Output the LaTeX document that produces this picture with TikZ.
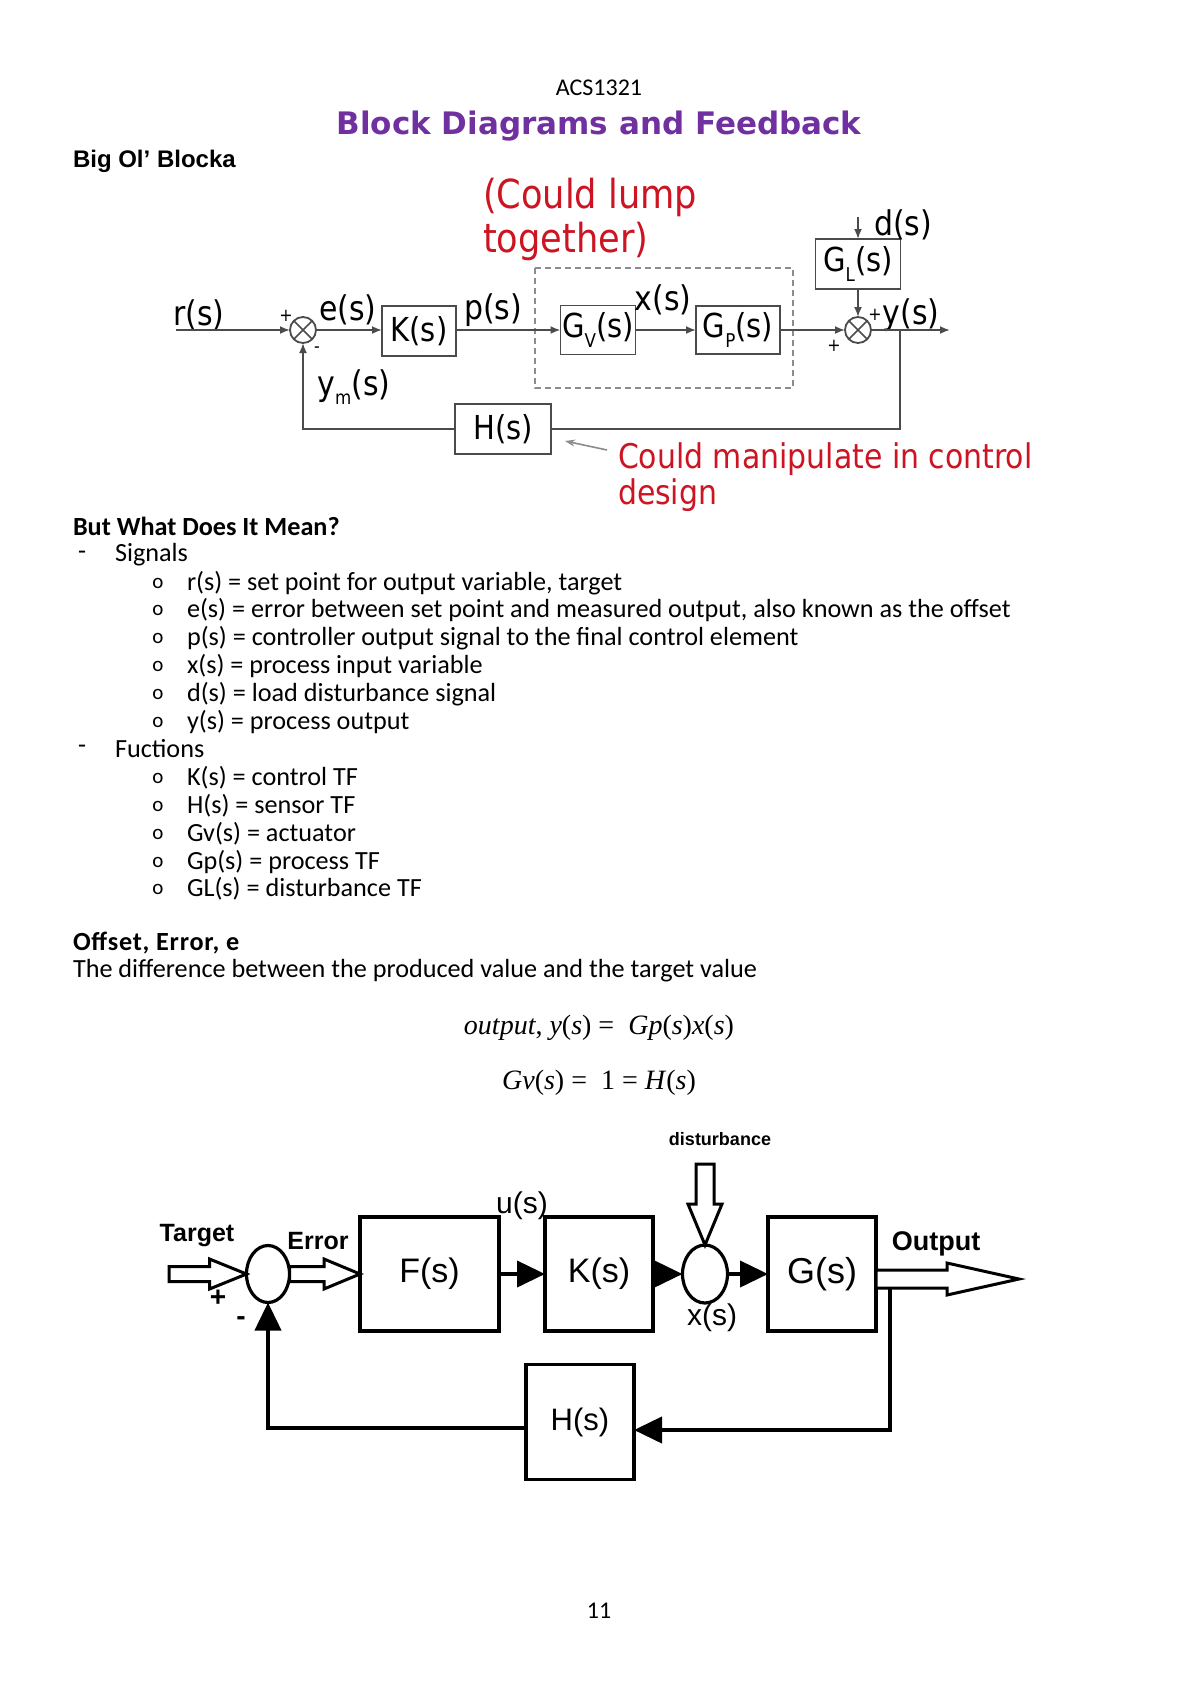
\documentclass[tikz,border=0pt]{standalone}
\usepackage{fontspec}
\setmainfont{Carlito}
\newfontfamily\djv{DejaVu Sans}[FakeStretch=0.88]
\newfontfamily\djt{DejaVu Sans}
\newfontfamily\lib{Liberation Sans}
\newfontfamily\lser{Liberation Serif}
\usetikzlibrary{arrows.meta,calc,shapes.geometric}
\definecolor{titlepurple}{RGB}{112,48,160}
\definecolor{annred}{RGB}{205,20,35}
\definecolor{lgray}{RGB}{75,75,75}
\definecolor{agray}{RGB}{140,140,140}
\newcommand{\sbx}[1]{\raisebox{-0.28em}{\fontsize{9.5}{9.5}\selectfont #1}}
\newcommand{\hharrow}[5]{%
 \draw[hollow] ($(#1)+(0,-#3)$) -- ($(#2)+(-#5,-#3)$) -- ($(#2)+(-#5,-#4)$) -- (#2) -- ($(#2)+(-#5,#4)$) -- ($(#2)+(-#5,#3)$) -- ($(#1)+(0,#3)$) -- cycle;}
\begin{document}
\begin{tikzpicture}[x=0.5pt,y=-0.5pt,
 every node/.style={inner sep=0pt, outer sep=0pt},
 body/.style={anchor=west, font=\fontsize{13.1}{14}\selectfont},
 bodyb/.style={anchor=west, font=\bfseries\fontsize{13.1}{14}\selectfont},
 bul/.style={font=\fontsize{10.5}{12}\selectfont},
 lab1/.style={font=\djv\fontsize{17}{17}\selectfont},
 blk1/.style={draw=lgray, line width=0.9pt, font=\djv\fontsize{16.5}{16.5}\selectfont},
 ln1/.style={draw=lgray, line width=0.9pt},
 tip1/.style={-{Latex[length=5pt,width=4pt]}},
 sumx/.style={circle, draw=lgray, line width=0.9pt, minimum size=13pt,
   path picture={\draw[lgray, line width=0.8pt] (path picture bounding box.north west) -- (path picture bounding box.south east) (path picture bounding box.north east) -- (path picture bounding box.south west);}},
 red1/.style={anchor=west, text=annred, font=\djv\fontsize{20}{20}\selectfont},
 red2/.style={anchor=west, text=annred, font=\djv\fontsize{17}{17}\selectfont},
 blk2/.style={draw, line width=1.6pt, font=\lib\fontsize{17}{17}\selectfont},
 ln2/.style={line width=2pt},
 tip2/.style={-{Triangle[length=14pt,width=13pt]}},
 hollow/.style={draw, line width=1.5pt, fill=white, line join=miter},
 ell/.style={ellipse, draw, line width=1.6pt},
 lab2/.style={font=\lib\bfseries\fontsize{12.5}{12.5}\selectfont},
 sig2/.style={font=\lib\fontsize{15}{15}\selectfont},
 eqn/.style={font=\lser\fontsize{14}{16}\selectfont}
]
\useasboundingbox (0,0) rectangle (1200,1698);
\fill[white] (0,0) rectangle (1200,1698);

% header
\node[font=\fontsize{12}{14}\selectfont] (hdr) at (599,88) {ACS1321};
\node[font=\djt\bfseries\fontsize{15.5}{17}\selectfont, text=titlepurple] (title) at (599,126) {Block Diagrams and Feedback};
\node[anchor=west, font=\lib\bfseries\fontsize{12}{14}\selectfont] (big) at (73,161) {Big Ol’ Blocka};

% ---------------- diagram 1 ----------------
\node[red1] (lump1) at (483,197) {(Could lump};
\node[red1] (lump2) at (483,241) {together)};
\draw[agray, line width=0.9pt, dash pattern=on 3pt off 2pt] (535,268) rectangle (793,388);
\node[lab1] (rlab) at (199,315) {r(s)};
\coordinate (rstart) at (176,330);
\node[sumx] (sum1) at (303,330) {};
\node[font=\djv\fontsize{9}{9}\selectfont] (p1) at (286,316) {+};
\node[font=\djv\fontsize{9}{9}\selectfont] (m1) at (317,350) {-};
\node[lab1] (elab) at (348,310) {e(s)};
\node[blk1, minimum width=37pt, minimum height=25pt] (K) at (419,331) {K(s)};
\node[lab1] (plab) at (493,310) {p(s)};
\node[blk1, minimum width=37.5pt, minimum height=24.5pt] (Gv) at (598,330) {G\sbx{V}(s)};
\node[lab1] (xlab) at (663,300) {x(s)};
\node[blk1, minimum width=42pt, minimum height=24pt] (Gp) at (738,330) {G\sbx{P}(s)};
\node[sumx] (sum2) at (858,330) {};
\node[blk1, minimum width=42.5pt, minimum height=25pt] (GL) at (858,264) {G\sbx{L}(s)};
\coordinate (dtop) at (858,217);
\node[lab1] (dlab) at (903,225) {d(s)};
\node[font=\djv\fontsize{9}{9}\selectfont] (p2) at (875,315) {+};
\node[font=\djv\fontsize{9}{9}\selectfont] (p3) at (834,346) {+};
\node[lab1] (ylab) at (911,315) {y(s)};
\coordinate (yout) at (950,330);
\coordinate (branch) at (900,330);
\node[blk1, minimum width=48pt, minimum height=25pt] (H) at (503,429) {H(s)};
\node[lab1] (ymlab) at (354,387) {y\sbx{m}(s)};
\node[red2] (man1) at (618,459) {Could manipulate in control};
\node[red2] (man2) at (618,495) {design};
\coordinate (ga1) at (607,450);
\coordinate (ga2) at (565,441);

\draw[ln1,tip1] (rstart) -- (sum1.west);
\draw[ln1,tip1] (sum1.east) -- (sum1.east -| K.west);
\draw[ln1,tip1] (K.east |- sum1.east) -- (Gv.west);
\draw[ln1,tip1] (Gv.east) -- (Gp.west);
\draw[ln1,tip1] (Gp.east) -- (sum2.west);
\draw[ln1,tip1] (dtop) -- (GL.north);
\draw[ln1,tip1] (GL.south) -- (sum2.north);
\draw[ln1,tip1] (sum2.east) -- (yout);
\draw[ln1] (branch) |- (H.east);
\draw[ln1,tip1] (H.west) -| (sum1.south);
\draw[agray, line width=0.8pt, -{Stealth[length=5pt,width=3.5pt]}] (ga1) -- (ga2);

% ---------------- text ----------------
\node[bodyb] (h2) at (73,526) {But What Does It Mean?};
\node[body] (d1) at (78,555) {-};
\node[body] (sig) at (115,555) {Signals};
\foreach \yy/\tt [count=\i] in {583/{r(s) = set point for output variable, target},
  610/{e(s) = error between set point and measured output, also known as the offset},
  638/{p(s) = controller output signal to the final control element},
  666/{x(s) = process input variable},
  694/{d(s) = load disturbance signal},
  722/{y(s) = process output}} {
  \node[bul] (sb\i) at (158,\yy) {o};
  \node[body] (st\i) at (187,\yy) {\tt};
}
\node[body] (d2) at (78,749) {-};
\node[body] (fuc) at (115,749) {Fuctions};
\foreach \yy/\tt [count=\i] in {778/{K(s) = control TF},
  806/{H(s) = sensor TF},
  834/{Gv(s) = actuator},
  862/{Gp(s) = process TF},
  889/{GL(s) = disturbance TF}} {
  \node[bul] (fb\i) at (158,\yy) {o};
  \node[body] (ft\i) at (187,\yy) {\tt};
}
\node[anchor=west, font=\bfseries\fontsize{13.1}{14}\selectfont\addfontfeature{LetterSpace=3}] (h3) at (73,943) {Offset, Error, e};
\node[body] (diff) at (73,971) {The difference between the produced value and the target value};
\node[eqn] (eq1) at (599,1028) {\textit{output}, \textit{y}(\textit{s}) =\ \ \textit{Gp}(\textit{s})\textit{x}(\textit{s})};
\node[eqn] (eq2) at (599,1083) {\textit{Gv}(\textit{s}) =\ \ 1 = \textit{H}(\textit{s})};

% ---------------- diagram 2 ----------------
\node[font=\lib\bfseries\fontsize{9}{9}\selectfont] (dist) at (720,1139) {disturbance};
\node[lab2] (tgt) at (197,1236) {Target};
\node[lab2] (err) at (318,1241) {Error};
\node[lab2, font=\lib\bfseries\fontsize{13.5}{13.5}\selectfont] (outl) at (936,1244) {Output};
\node[sig2] (ulab) at (522,1206) {u(s)};
\node[sig2] (x2lab) at (712,1318) {x(s)};
\node[font=\lib\bfseries\fontsize{14}{14}\selectfont] (pl) at (218,1298) {+};
\node[font=\lib\bfseries\fontsize{14}{14}\selectfont] (mi) at (241,1321) {-};

\node[ell, minimum width=21.5pt, minimum height=28.5pt] (e1) at (268,1274) {};
\node[ell, minimum width=22.5pt, minimum height=29pt] (e2) at (705,1274) {};
\node[blk2, minimum width=69.5pt, minimum height=57pt] (F) at (429.5,1274) {F(s)};
\node[blk2, minimum width=54pt, minimum height=57pt] (K2) at (599,1274) {K(s)};
\node[blk2, minimum width=54pt, minimum height=57pt, font=\lib\fontsize{18}{18}\selectfont] (G) at (822,1274) {G(s)};
\node[blk2, minimum width=54pt, minimum height=57.5pt, font=\lib\fontsize{15.5}{15.5}\selectfont] (H2) at (580,1422) {H(s)};

\coordinate (tstart) at (169,1274);
\coordinate (ostart) at (876,1279);
\coordinate (oend) at (1019,1279);
\coordinate (fbtop) at (890,1287);

\draw[ln2,tip2] (F.east) -- (K2.west);
\draw[ln2,tip2] (K2.east) -- (e2.west);
\draw[ln2,tip2] (e2.east) -- (G.west);
\draw[ln2,tip2] (fbtop) |- ([yshift=-4pt]H2.east);
\draw[ln2,tip2] ([yshift=-3pt]H2.west) -| (e1.south);

\hharrow{tstart}{e1.west}{7.5}{15}{37}
\hharrow{e1.east}{F.west}{7.5}{15}{36}
\hharrow{ostart}{oend}{9}{16}{72}
\draw[hollow] (696,1164) -- (714,1164) -- (714,1204) -- (722,1204) -- (e2.north) -- (688,1204) -- (696,1204) -- cycle;

\node[font=\fontsize{12}{14}\selectfont] (pg) at (599,1611) {11};
\end{tikzpicture}
\end{document}
